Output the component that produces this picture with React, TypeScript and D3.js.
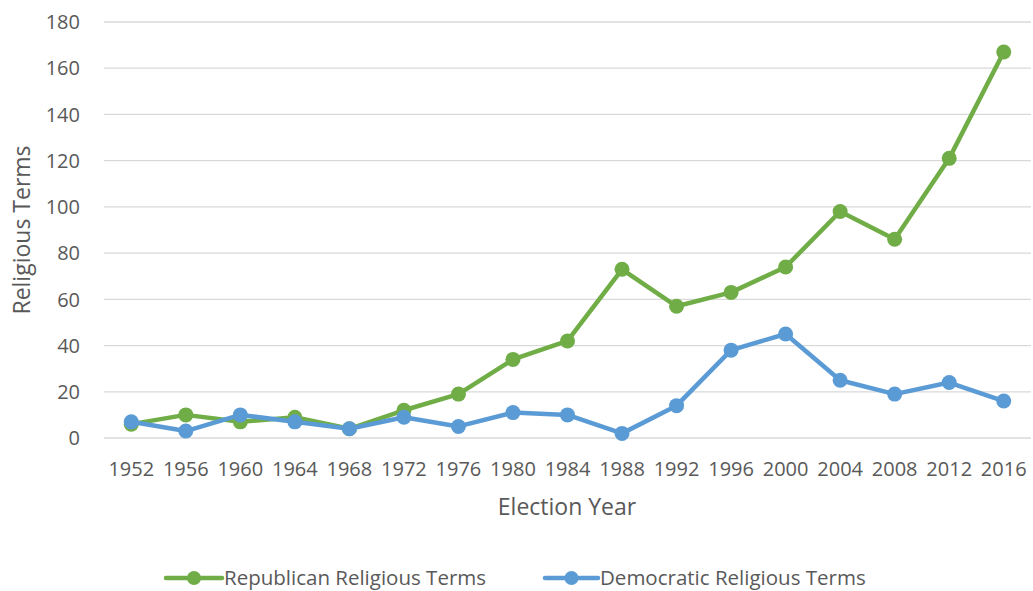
import React from "react";
import * as d3 from "d3";

const years = ["1952", "1956", "1960", "1964", "1968", "1972", "1976", "1980", "1984", "1988", "1992", "1996", "2000", "2004", "2008", "2012", "2016"];
const republican = [6, 10, 7, 9, 4, 12, 19, 34, 42, 73, 57, 63, 74, 98, 86, 121, 167];
const democratic = [7, 3, 10, 7, 4, 9, 5, 11, 10, 2, 14, 38, 45, 25, 19, 24, 16];
const yTicks = [0, 20, 40, 60, 80, 100, 120, 140, 160, 180];

const seriesList = [
  { name: "Republican Religious Terms", values: republican, color: "#70AD47" },
  { name: "Democratic Religious Terms", values: democratic, color: "#5B9BD5" },
];

const W = 1033;
const H = 591;
const FONT = "'Open Sans', sans-serif";
const TEXT = "#595959";

export default function App() {
  const x = d3.scaleBand<string>().domain(years).range([104, 1031]);
  const y = d3.scaleLinear().domain([0, 180]).range([438, 22]);
  const cx = (d: string) => (x(d) as number) + x.bandwidth() / 2;
  const line = d3
    .line<number>()
    .x((_, i) => cx(years[i]))
    .y((v) => y(v));

  const legend = [
    { lineX: 166, textX: 224 },
    { lineX: 545, textX: 600 },
  ];

  return (
    <svg width={W} height={H} style={{ position: "absolute", left: 0, top: 0, background: "#fff" }} fontFamily={FONT}>
      <rect width={W} height={H} fill="#fff" />
      {yTicks.map((t) => (
        <g key={t}>
          <line x1={104} x2={1031} y1={y(t)} y2={y(t)} stroke="#D9D9D9" strokeWidth={1.3} />
          <text x={80} y={y(t)} dy="0.36em" textAnchor="end" fontSize={20} fill={TEXT}>
            {t}
          </text>
        </g>
      ))}
      {years.map((yr) => (
        <text key={yr} x={cx(yr)} y={476} textAnchor="middle" fontSize={20} fill={TEXT}>
          {yr}
        </text>
      ))}
      <text transform="translate(30,230) rotate(-90)" textAnchor="middle" fontSize={23} fill={TEXT}>
        Religious Terms
      </text>
      <text x={567} y={515} textAnchor="middle" fontSize={23} fill={TEXT}>
        Election Year
      </text>
      {seriesList.map((s) => (
        <g key={s.name}>
          <path d={line(s.values) as string} fill="none" stroke={s.color} strokeWidth={4.5} strokeLinejoin="round" strokeLinecap="round" />
          {s.values.map((v, i) => (
            <circle key={i} cx={cx(years[i])} cy={y(v)} r={7.5} fill={s.color} />
          ))}
        </g>
      ))}
      {seriesList.map((s, i) => (
        <g key={s.name}>
          <line x1={legend[i].lineX} x2={legend[i].textX - 2} y1={578} y2={578} stroke={s.color} strokeWidth={4.5} strokeLinecap="round" />
          <circle cx={(legend[i].lineX + legend[i].textX - 2) / 2} cy={578} r={7} fill={s.color} />
          <text x={legend[i].textX} y={578} dy="0.36em" fontSize={20.5} fill={TEXT}>
            {s.name}
          </text>
        </g>
      ))}
    </svg>
  );
}
